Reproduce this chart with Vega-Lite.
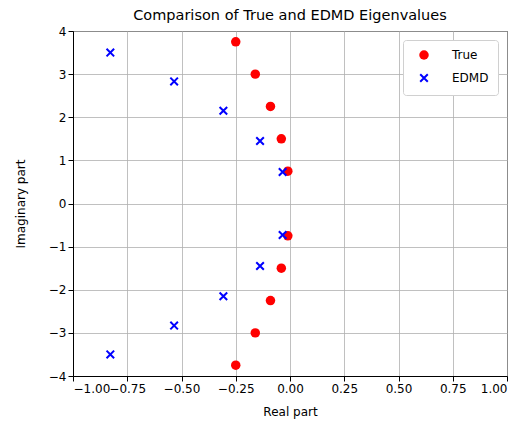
{
  "$schema": "https://vega.github.io/schema/vega-lite/v6.json",
  "autosize": {"type": "none"},
  "padding": {"left": 73, "top": 31, "right": 19, "bottom": 51},
  "width": 434,
  "height": 345,
  "title": {"text": "Comparison of True and EDMD Eigenvalues", "font": "DejaVu Sans", "fontSize": 14.5, "fontWeight": "normal", "color": "black", "offset": 2},
  "config": {
    "font": "DejaVu Sans",
    "view": {"stroke": "black", "strokeWidth": 1},
    "axis": {"labelFont": "DejaVu Sans", "titleFont": "DejaVu Sans", "labelFontSize": 12, "titleFontSize": 12, "titleFontWeight": "normal", "labelColor": "black", "titleColor": "black", "tickColor": "black", "domainColor": "black", "gridColor": "#b0b0b0", "gridWidth": 0.8, "tickSize": 5, "labelOverlap": false},
    "legend": {"orient": "top-right", "offset": 9, "strokeColor": "#d0d0d0", "fillColor": "#ffffff", "cornerRadius": 3, "padding": 9, "labelFont": "DejaVu Sans", "labelFontSize": 12, "labelColor": "black", "labelOffset": 22, "rowPadding": 6, "symbolSize": 90, "symbolStrokeWidth": 2, "labelLimit": 200, "symbolOffset": 6}
  },
  "data": {"values": [
    {"series": "True", "real": -0.25, "imag": 3.75},
    {"series": "True", "real": -0.16, "imag": 3.0},
    {"series": "True", "real": -0.09, "imag": 2.25},
    {"series": "True", "real": -0.04, "imag": 1.5},
    {"series": "True", "real": -0.01, "imag": 0.75},
    {"series": "True", "real": -0.01, "imag": -0.75},
    {"series": "True", "real": -0.04, "imag": -1.5},
    {"series": "True", "real": -0.09, "imag": -2.25},
    {"series": "True", "real": -0.16, "imag": -3.0},
    {"series": "True", "real": -0.25, "imag": -3.75},
    {"series": "EDMD", "real": -0.828, "imag": 3.5},
    {"series": "EDMD", "real": -0.534, "imag": 2.83},
    {"series": "EDMD", "real": -0.307, "imag": 2.15},
    {"series": "EDMD", "real": -0.138, "imag": 1.45},
    {"series": "EDMD", "real": -0.034, "imag": 0.73},
    {"series": "EDMD", "real": -0.034, "imag": -0.73},
    {"series": "EDMD", "real": -0.138, "imag": -1.45},
    {"series": "EDMD", "real": -0.307, "imag": -2.15},
    {"series": "EDMD", "real": -0.534, "imag": -2.83},
    {"series": "EDMD", "real": -0.828, "imag": -3.5}
  ]},
  "mark": {"type": "point", "filled": true, "size": 90, "strokeWidth": 2, "opacity": 1},
  "encoding": {
    "x": {"field": "real", "type": "quantitative", "title": "Real part", "scale": {"domain": [-1, 1], "nice": false}, "axis": {"values": [-1, -0.75, -0.5, -0.25, 0, 0.25, 0.5, 0.75, 1], "format": ".2f", "titlePadding": 12}},
    "y": {"field": "imag", "type": "quantitative", "title": "Imaginary part", "scale": {"domain": [-4, 4], "nice": false}, "axis": {"values": [-4, -3, -2, -1, 0, 1, 2, 3, 4], "titlePadding": 21}},
    "fill": {"field": "series", "type": "nominal", "title": null, "scale": {"domain": ["True", "EDMD"], "range": ["#ff0000", "transparent"]}},
    "stroke": {"field": "series", "type": "nominal", "title": null, "scale": {"domain": ["True", "EDMD"], "range": ["transparent", "#0000ff"]}},
    "shape": {"field": "series", "type": "nominal", "title": null, "scale": {"domain": ["True", "EDMD"], "range": ["circle", "M-0.8,-0.8L0.8,0.8M-0.8,0.8L0.8,-0.8"]}}
  }
}
